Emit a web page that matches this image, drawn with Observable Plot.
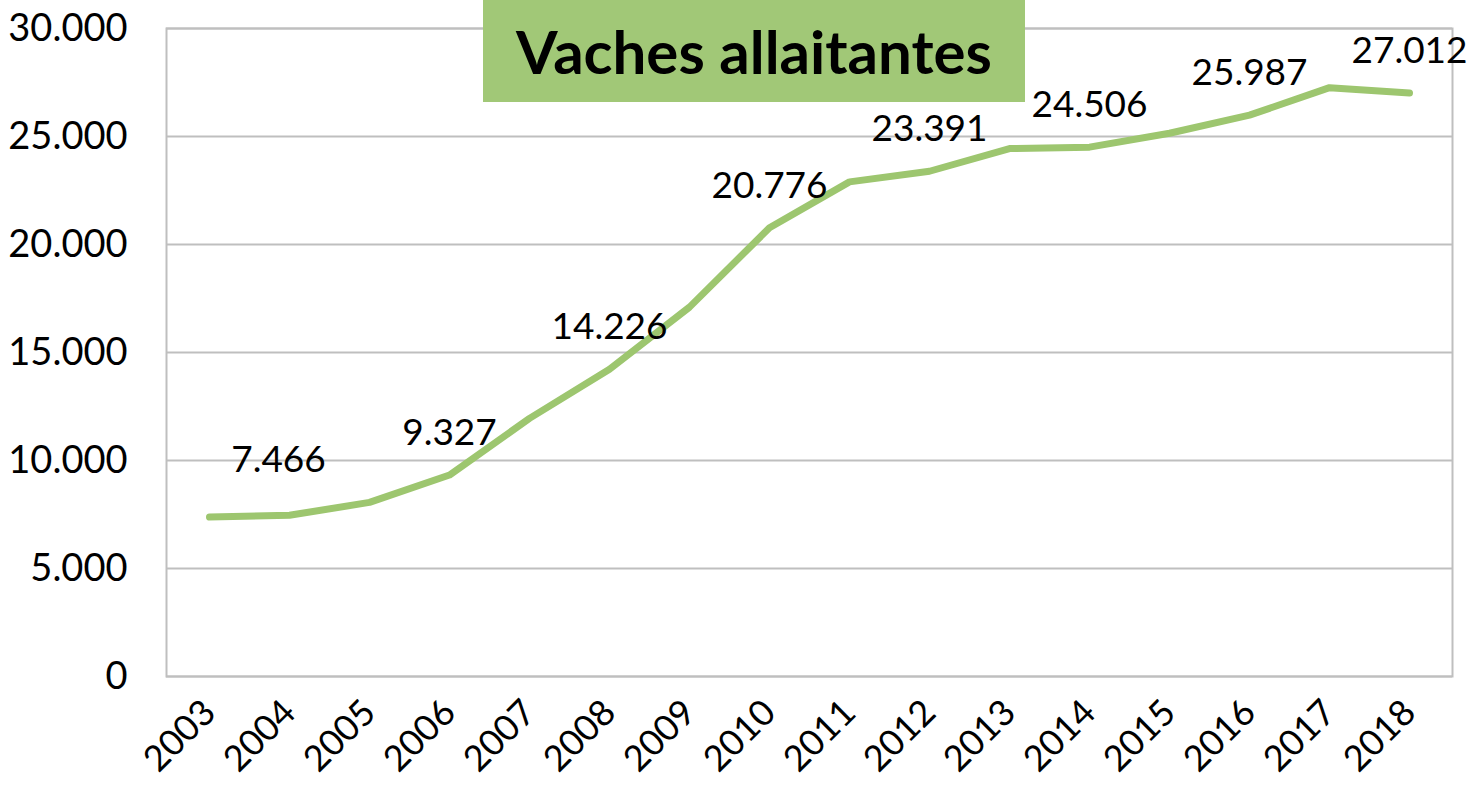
<!DOCTYPE html>
<html>
<head>
<meta charset="utf-8">
<script src="https://cdn.jsdelivr.net/npm/d3@7"></script>
<script src="https://cdn.jsdelivr.net/npm/@observablehq/plot@0.6"></script>
<style>
  html, body { margin: 0; padding: 0; background: #fff; }
  #wrap { position: relative; width: 1478px; height: 790px; }
  #title {
    position: absolute; left: 483px; top: 0px; width: 542px; height: 102px;
    background: #a1c877; display: flex; align-items: center; justify-content: center;
    font-family: Lato, "Open Sans", sans-serif; font-weight: bold; font-size: 60px; color: #000;
  }
</style>
</head>
<body>
<div id="wrap">
  <div id="chart"></div>
  <div id="title">Vaches allaitantes</div>
</div>
<script>
const years = ["2003","2004","2005","2006","2007","2008","2009","2010","2011","2012","2013","2014","2015","2016","2017","2018"];
const values = [7380, 7466, 8060, 9327, 11950, 14226, 17100, 20776, 22900, 23391, 24440, 24506, 25150, 25987, 27260, 27012];
const labeledYears = ["2004","2006","2008","2010","2012","2014","2016","2018"];
const yTicks = [0, 5000, 10000, 15000, 20000, 25000, 30000];

const data = years.map((y, i) => ({year: y, value: values[i]}));
const fmt = n => n === 0 ? "0" : d3.format(",")(n).replace(/,/g, ".");
const labels = data.filter(d => labeledYears.includes(d.year));
const firstLabel = labels.slice(0, 1);
const otherLabels = labels.slice(1);

const chart = Plot.plot({
  width: 1478,
  height: 790,
  marginLeft: 166,
  marginRight: 26,
  marginTop: 28,
  marginBottom: 114,
  style: {fontFamily: "Lato, 'Open Sans', sans-serif", color: "#000", background: "#fff"},
  x: {type: "point", domain: years, padding: 0.5, label: null},
  y: {domain: [0, 30000], label: null},
  marks: [
    Plot.gridY(yTicks, {stroke: "#bfbfbf", strokeOpacity: 1, strokeWidth: 2}),
    Plot.frame({stroke: "#bfbfbf", strokeWidth: 2}),
    Plot.axisY(yTicks, {tickSize: 0, tickPadding: 39, tickFormat: fmt, fontSize: 38, label: null}),
    Plot.axisX({tickSize: 0, tickPadding: 30, tickRotate: -45, fontSize: 36, label: null}),
    Plot.line(data, {x: "year", y: "value", stroke: "#9dc66f", strokeWidth: 7, strokeLinecap: "round", strokeLinejoin: "round"}),
    Plot.text(firstLabel, {x: "year", y: "value", text: d => fmt(d.value), dx: -11, dy: -55, fontSize: 37, fill: "#000"}),
    Plot.text(otherLabels, {x: "year", y: "value", text: d => fmt(d.value), dy: -42, fontSize: 37, fill: "#000"})
  ]
});
document.getElementById("chart").appendChild(chart);
</script>
</body>
</html>
